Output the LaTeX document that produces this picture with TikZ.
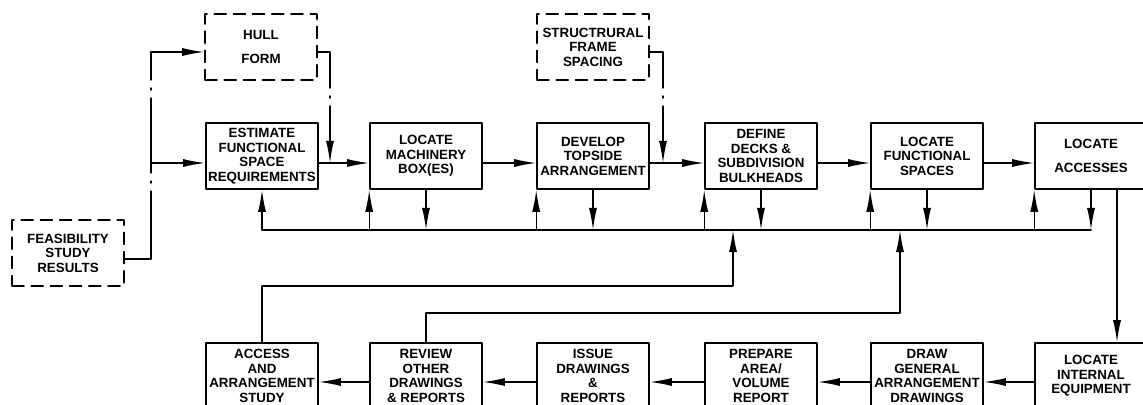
\documentclass[tikz,border=0pt]{standalone}
\usepackage{fontspec}
\setmainfont{Liberation Sans}
\usetikzlibrary{arrows.meta}

\begin{document}
\begin{tikzpicture}[x=0.025cm, y=-0.025cm, >={Latex[length=0.55cm,width=0.2cm]},
    line cap=round, line join=round,
    box/.style={draw, line width=1.1pt, minimum width=2.8cm, minimum height=1.65cm,
      inner sep=0pt, align=center, font=\fontsize{9.5}{10.3}\selectfont\bfseries},
    dbox/.style={box, dash pattern=on 0.3cm off 0.18cm},
    link/.style={line width=1pt},
    chain/.style={link, dash pattern=on 1.875cm off 0.2cm on 0.05cm off 0.2cm}]

\clip (0,0) rectangle (1143,405);

% outside inputs
\node[dbox] (hull) at (261,47) {HULL\\[0.25cm]FORM};
\node[dbox] (frame) at (593,47) {STRUCTRURAL\\FRAME\\SPACING};
\node[dbox] (feas) at (68,253) {FEASIBILITY\\STUDY\\RESULTS};

% upper row
\node[box] (est) at (262,156) {ESTIMATE\\FUNCTIONAL\\SPACE\\REQUIREMENTS};
\node[box] (mach) at (426,156) {LOCATE\\MACHINERY\\BOX(ES)};
\node[box] (dev) at (593,156) {DEVELOP\\TOPSIDE\\ARRANGEMENT};
\node[box] (decks) at (761,156) {DEFINE\\DECKS \&\\SUBDIVISION\\BULKHEADS};
\node[box] (func) at (927,156) {LOCATE\\FUNCTIONAL\\SPACES};
\node[box] (acc) at (1091,156) {LOCATE\\[0.22cm]ACCESSES};

% lower row
\node[box] (intern) at (1091,376) {LOCATE\\INTERNAL\\EQUIPMENT};
\node[box] (ga) at (927,376) {DRAW\\GENERAL\\ARRANGEMENT\\DRAWINGS};
\node[box] (area) at (761,376) {PREPARE\\AREA/\\VOLUME\\REPORT};
\node[box] (issue) at (593,376) {ISSUE\\DRAWINGS\\\&\\REPORTS};
\node[box] (review) at (426,376) {REVIEW\\OTHER\\DRAWINGS\\\& REPORTS};
\node[box] (study) at (262,376) {ACCESS\\AND\\ARRANGEMENT\\STUDY};

% levels and turning points
\coordinate (flow) at (0,163);
\coordinate (back) at (0,382);
\coordinate (bus) at (0,230);
\coordinate (split) at (151,259);
\coordinate (hulldrop) at (330,52);
\coordinate (framedrop) at (663,52);
\coordinate (loop1) at (733,286);
\coordinate (loop2) at (900,313);
\coordinate (down) at (1117,0);

% feasibility study feeds hull form and estimate
\draw[link] (feas.east |- split) -- (split);
\draw[chain, dash phase=1.175cm] (split |- hulldrop) -- (split);
\draw[link,->] (split |- hulldrop) -- (hull.west |- hulldrop);
\draw[link,->] (split |- flow) -- (est.west |- flow);
\draw[link] (hull.east |- hulldrop) -- (hulldrop);
\draw[chain, dash phase=0.975cm, ->] (hulldrop) -- (hulldrop |- flow);
\draw[link] (frame.east |- framedrop) -- (framedrop);
\draw[chain, dash phase=0.975cm, ->] (framedrop) -- (framedrop |- flow);

% main sequence
\foreach \a/\b in {est/mach, mach/dev, dev/decks, decks/func, func/acc}
  \draw[link,->] (\a.east |- flow) -- (\b.west |- flow);
\foreach \a/\b in {intern/ga, ga/area, area/issue, issue/review, review/study}
  \draw[link,->] (\a.west |- back) -- (\b.east |- back);

% common bus under the upper row
\draw[link] (est.south |- bus) -- (acc.south |- bus);
\draw[link,->] (est.south |- bus) -- (est.south);
\foreach \b in {mach, dev, decks, func, acc} {
  \draw[link,->] (\b.south west |- bus) -- (\b.south west);
  \draw[link,->] (\b.south) -- (\b.south |- bus);
}

% feedback and turn down
\draw[link,->] (study.north) |- (loop1) -- (loop1 |- bus);
\draw[link,->] (review.north) |- (loop2) -- (loop2 |- bus);
\draw[link,->] (acc.south -| down) -- (intern.north -| down);

\end{tikzpicture}
\end{document}
